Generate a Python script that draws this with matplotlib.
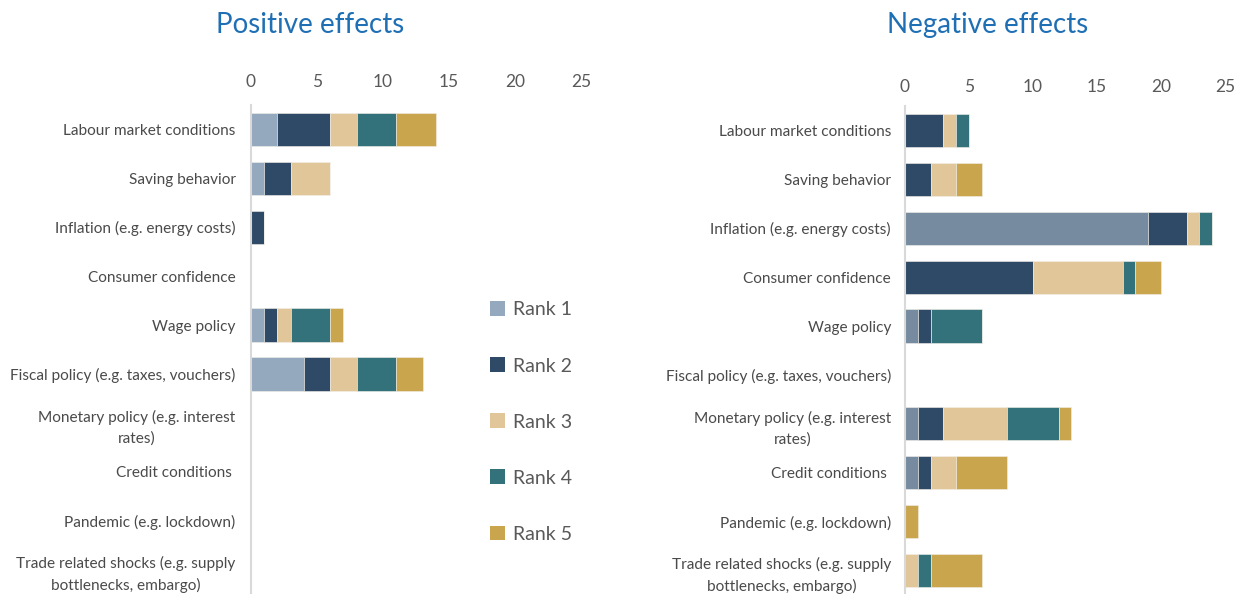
import matplotlib
matplotlib.use("Agg")
import matplotlib.pyplot as plt
from matplotlib.patches import Patch
import numpy as np

plt.rcParams['font.family'] = ['Lato', 'DejaVu Sans']

categories = [
    "Labour market conditions",
    "Saving behavior",
    "Inflation (e.g. energy costs)",
    "Consumer confidence",
    "Wage policy",
    "Fiscal policy (e.g. taxes, vouchers)",
    "Monetary policy (e.g. interest\nrates)",
    "Credit conditions ",
    "Pandemic (e.g. lockdown)",
    "Trade related shocks (e.g. supply\nbottlenecks, embargo)",
]
ranks = ["Rank 1", "Rank 2", "Rank 3", "Rank 4", "Rank 5"]

# Positive effects: rows = categories, columns = rank 1..5
positive = [
    [2, 4, 2, 3, 3],
    [1, 2, 3, 0, 0],
    [0, 1, 0, 0, 0],
    [0, 0, 0, 0, 0],
    [1, 1, 1, 3, 1],
    [4, 2, 2, 3, 2],
    [0, 0, 0, 0, 0],
    [0, 0, 0, 0, 0],
    [0, 0, 0, 0, 0],
    [0, 0, 0, 0, 0],
]
negative = [
    [0, 3, 1, 1, 0],
    [0, 2, 2, 0, 2],
    [19, 3, 1, 1, 0],
    [0, 10, 7, 1, 2],
    [1, 1, 0, 4, 0],
    [0, 0, 0, 0, 0],
    [1, 2, 5, 4, 1],
    [1, 1, 2, 0, 4],
    [0, 0, 0, 0, 1],
    [0, 0, 1, 1, 4],
]
xticks = [0, 5, 10, 15, 20, 25]

colors_pos = ["#94A9BE", "#2E4A66", "#E0C698", "#33727A", "#C9A54E"]
colors_neg = ["#768B9F", "#2E4A66", "#E0C698", "#33727A", "#C9A54E"]

W, H = 1246, 594
fig = plt.figure(figsize=(W / 100, H / 100), dpi=100)

def px_axes(x0, x1, y0, y1):
    return fig.add_axes([x0 / W, 1 - y1 / H, (x1 - x0) / W, (y1 - y0) / H])

def draw(ax, data, colors, pad_top, pad_left):
    data = np.array(data, dtype=float)
    y = np.arange(len(categories))
    left = np.zeros(len(categories))
    for j in range(data.shape[1]):
        ax.barh(y, data[:, j], left=left, height=0.68, color=colors[j],
                edgecolor="#F4F1EA", linewidth=0.4)
        left += data[:, j]
    ax.set_ylim(len(categories) - 0.5, -0.5)
    ax.set_xlim(0, 25)
    ax.set_xticks(xticks)
    ax.set_yticks(y)
    ax.set_yticklabels(categories, multialignment="center", linespacing=1.55)
    ax.xaxis.tick_top()
    ax.tick_params(axis="x", length=0, pad=pad_top, labelsize=12.5, labelcolor="#595959")
    ax.tick_params(axis="y", length=0, pad=pad_left, labelsize=11.1, labelcolor="#4A4A4A")
    for s in ["top", "right", "bottom"]:
        ax.spines[s].set_visible(False)
    ax.spines["left"].set_color("#D9D9D9")
    ax.spines["left"].set_linewidth(1.5)

ax1 = px_axes(251, 581, 105, 594)
draw(ax1, positive, colors_pos, 11, 11)
ax2 = px_axes(905, 1225, 106, 595)
draw(ax2, negative, colors_neg, 8, 10)

fig.text(310 / W, 1 - 25 / H, "Positive effects", ha="center", va="center",
         fontsize=20, color="#1F6FB5")
fig.text(988 / W, 1 - 25 / H, "Negative effects", ha="center", va="center",
         fontsize=20, color="#1F6FB5")

handles = [Patch(facecolor=c, edgecolor="none") for c in colors_pos]
fig.legend(handles, ranks, loc="center", bbox_to_anchor=(531 / W, 1 - 422 / H),
           frameon=False, fontsize=14, labelcolor="#595959", labelspacing=2.0,
           handlelength=0.8, handleheight=0.8, handletextpad=0.4)

fig.savefig("out.png", dpi=100)
